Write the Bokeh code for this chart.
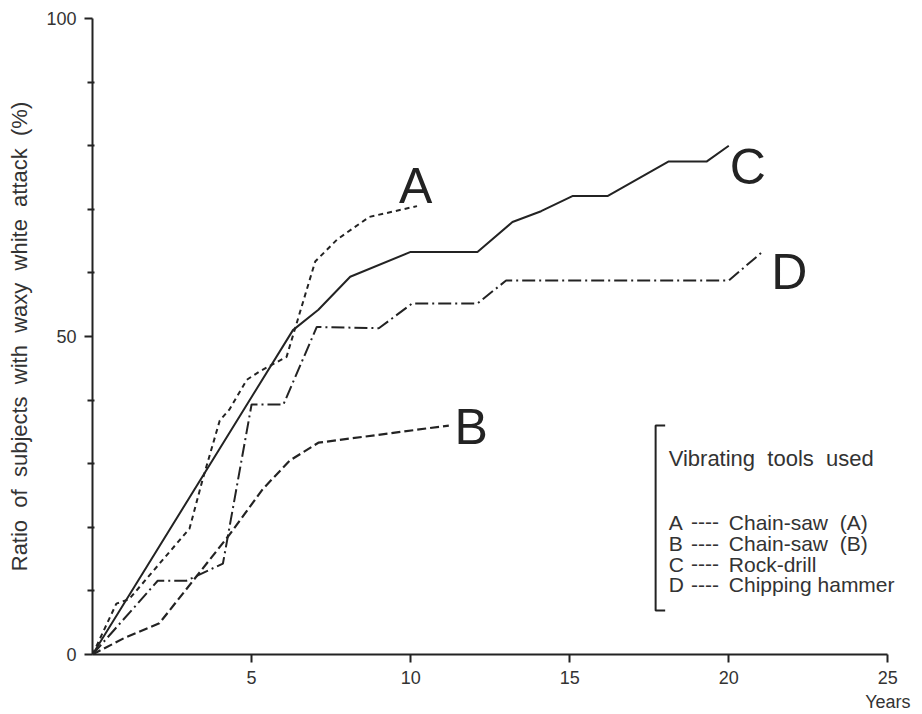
from bokeh.plotting import figure
from bokeh.models import Range1d, FixedTicker, Label
from bokeh.embed import file_html
from bokeh.resources import INLINE

# ---- data ----
years_A = [0, 0.75, 1.15, 3.05, 3.45, 4.0, 4.3, 4.85, 5.25, 6.1, 7.0, 7.7, 8.7, 10.2]
ratio_A = [0, 8.0, 8.7, 19.8, 27.3, 36.8, 38.5, 43.2, 44.5, 46.8, 61.8, 65.3, 68.8, 70.5]

years_B = [0, 1.0, 2.1, 4.3, 5.35, 6.2, 7.1, 11.2]
ratio_B = [0, 2.6, 4.9, 18.8, 26.0, 30.5, 33.3, 36.0]

years_C = [0, 6.3, 7.1, 8.1, 10.0, 12.1, 13.2, 14.1, 15.1, 16.2, 18.1, 19.3, 20.0]
ratio_C = [0, 51.0, 54.2, 59.4, 63.3, 63.3, 68.0, 69.7, 72.1, 72.1, 77.5, 77.5, 80.0]

years_D = [0, 2.05, 2.95, 4.1, 5.0, 6.0, 7.05, 9.0, 10.05, 12.1, 13.0, 20.0, 21.1]
ratio_D = [0, 11.6, 11.6, 14.3, 39.3, 39.3, 51.5, 51.3, 55.2, 55.2, 58.8, 58.8, 63.5]

series_names = ["A", "B", "C", "D"]
x_ticks = [5, 10, 15, 20, 25]
x_tick_labels = ["5", "10", "15", "20", "25\nYears"]
y_ticks = [0, 50, 100]
y_minor_ticks = [10, 20, 30, 40, 60, 70, 80, 90]
y_label_words = ["Ratio", "of", "subjects", "with", "waxy", "white", "attack", "(%)"]
legend_title_words = ["Vibrating", "tools", "used"]
legend_letters = ["A", "B", "C", "D"]
legend_tools = ["Chain-saw\u00a0 (A)", "Chain-saw\u00a0 (B)", "Rock-drill", "Chipping hammer"]

# ---- styling / layout ----
INK = "#232323"
TXT = "#333333"
FONT = "Liberation Sans"
GAP = "\u00a0 "

p = figure(width=922, height=714, output_backend="svg", toolbar_location=None,
           x_range=Range1d(0, 25.9), y_range=Range1d(0, 100),
           min_border_left=92, min_border_right=6, min_border_top=18, min_border_bottom=60)
p.outline_line_color = None
p.xgrid.visible = False
p.ygrid.visible = False
p.background_fill_color = "white"
p.border_fill_color = "white"

for ax in (p.xaxis[0], p.yaxis[0]):
    ax.axis_line_color = INK
    ax.axis_line_width = 2
    ax.major_tick_line_color = INK
    ax.major_tick_line_width = 2
    ax.minor_tick_line_color = INK
    ax.minor_tick_line_width = 2
    ax.major_label_text_font = FONT
    ax.major_label_text_font_size = "18px"
    ax.major_label_text_color = TXT
    ax.major_tick_in = 0
    ax.major_tick_out = 8

p.xaxis.ticker = FixedTicker(ticks=x_ticks)
p.xaxis.bounds = (0, 25)
p.xaxis.major_label_overrides = dict(zip(x_ticks, x_tick_labels))
p.xaxis.minor_tick_line_color = None
p.xaxis.major_label_standoff = 5

p.yaxis.ticker = FixedTicker(ticks=y_ticks, minor_ticks=y_minor_ticks)
p.yaxis.minor_tick_out = 5
p.yaxis.minor_tick_in = 2
p.yaxis.major_label_standoff = 8
p.yaxis.axis_label = GAP.join(y_label_words)
p.yaxis.axis_label_text_font = FONT
p.yaxis.axis_label_text_font_size = "22px"
p.yaxis.axis_label_text_font_style = "normal"
p.yaxis.axis_label_text_color = TXT
p.yaxis.axis_label_standoff = 11

# ---- curves ----
p.line(years_A, ratio_A, line_color=INK, line_width=2, line_dash="5 4")
p.line(years_B, ratio_B, line_color=INK, line_width=2.2, line_dash="9 4")
p.line(years_C, ratio_C, line_color=INK, line_width=2)
p.line(years_D, ratio_D, line_color=INK, line_width=2, line_dash="13 4 2 4")

# ---- curve end labels ----
end_label_pos = {"A": (10.16, 73.6), "B": (11.9, 35.7), "C": (20.6, 76.6), "D": (21.9, 60.1)}
for name in series_names:
    lx, ly = end_label_pos[name]
    p.add_layout(Label(x=lx, y=ly, text=name, text_font=FONT, text_font_size="50px",
                       text_color=INK, text_align="center", text_baseline="alphabetic"))

# ---- hand-made legend ----
br_x, br_x2, br_top, br_bot = 17.7, 18.0, 36.0, 6.9
p.line([br_x2, br_x, br_x, br_x2], [br_top, br_top, br_bot, br_bot], line_color=INK, line_width=2)

leg_x = 18.11
p.add_layout(Label(x=leg_x, y=30.8, text=GAP.join(legend_title_words), text_font=FONT,
                   text_font_size="22px", text_color=TXT, text_baseline="alphabetic"))
row_y = [20.8, 17.4, 14.2, 10.95]
for letter, tool, ry in zip(legend_letters, legend_tools, row_y):
    p.add_layout(Label(x=leg_x, y=ry, text=letter, text_font=FONT, text_font_size="21px",
                       text_color=TXT, text_baseline="alphabetic"))
    p.add_layout(Label(x=18.81, y=ry, text="----", text_font=FONT, text_font_size="21px",
                       text_color=TXT, text_baseline="alphabetic"))
    p.add_layout(Label(x=20.0, y=ry, text=tool, text_font=FONT, text_font_size="21px",
                       text_color=TXT, text_baseline="alphabetic"))

open("out.html", "w").write(file_html(p, INLINE))
